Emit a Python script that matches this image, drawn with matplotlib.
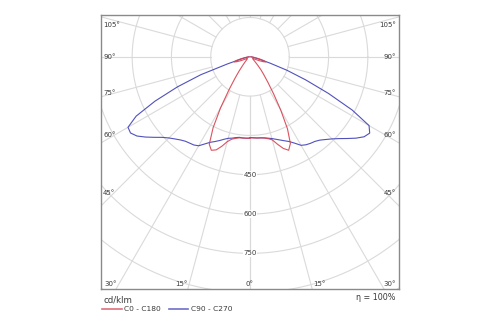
import matplotlib
matplotlib.use('Agg')
import matplotlib.pyplot as plt
from matplotlib.lines import Line2D
import numpy as np

# ─── Data: luminous intensity (cd/klm) vs. gamma angle from nadir ─────
gamma = np.arange(0, 92.5, 2.5)

# C0 (right) / C180 (left) plane
c0 = [309, 310, 311, 312, 315, 320, 328, 350, 372, 386,
      365, 310, 235, 168, 120, 88, 66, 44, 30, 22,
      17, 14, 12, 12, 13, 16, 25, 40, 56, 64,
      52, 36, 24, 15, 9, 5, 3]
c180 = [311, 311, 311, 312, 316, 322, 335, 358, 378, 386,
        368, 305, 225, 150, 100, 68, 45, 32, 24, 18,
        15, 13, 12, 12, 13, 16, 25, 40, 56, 64,
        52, 36, 24, 15, 9, 5, 3]

# C90 (right) / C270 (left) plane
c90 = [308, 309, 311, 312, 314, 318, 323, 330, 338, 347,
       357, 372, 390, 398, 403, 407, 415, 428, 443, 462,
       485, 510, 532, 542, 525, 440, 330, 230, 150, 80,
       40, 22, 14, 9, 6, 4, 3]
c270 = [310, 311, 311, 310, 313, 318, 322, 330, 340, 350,
        360, 375, 392, 399, 402, 406, 414, 425, 438, 455,
        478, 503, 527, 541, 538, 490, 400, 300, 200, 90,
        42, 24, 14, 9, 6, 4, 3]

rings = [150, 300, 450, 600, 750, 900, 1050]
ring_labels = [450, 600, 750]
side_angles = [45, 60, 75, 90, 105]
bottom_angles = [0, 15, 30]
efficiency = 100

RED = '#d6404e'
BLUE = '#3e3eb6'
GRID = '#dadada'
TXT = '#3a3a3a'

W, H = 500, 325
fig = plt.figure(figsize=(W / 100, H / 100), dpi=100)
ax = fig.add_axes([101 / W, 1 - 289 / H, 298 / W, 274 / H])
XL, YB, YT = 569, -886, 159.5
ax.set_xlim(-XL, XL)
ax.set_ylim(YB, YT)
px = (2 * XL) / 298.0   # cd/klm per pixel

# polar grid
t = np.linspace(0, 2 * np.pi, 400)
for r in rings:
    ax.plot(r * np.cos(t), r * np.sin(t), color=GRID, lw=0.8, zorder=1)
for a in range(0, 181, 15):
    g = np.radians(a)
    for sgn in (-1, 1):
        ax.plot([sgn * 150 * np.sin(g), sgn * 1300 * np.sin(g)],
                [-150 * np.cos(g), -1300 * np.cos(g)],
                color=GRID, lw=0.8, zorder=1)

for r in ring_labels:
    ax.text(0, -r, str(r), ha='center', va='center', fontsize=5, color=TXT,
            bbox=dict(boxstyle='square,pad=0.1', fc='white', ec='none'), zorder=2)


def curve(left, right):
    g = np.radians(gamma)
    xl, yl = -np.array(left) * np.sin(g), -np.array(left) * np.cos(g)
    xr, yr = np.array(right) * np.sin(g), -np.array(right) * np.cos(g)
    return np.r_[xl[::-1], xr], np.r_[yl[::-1], yr]


x, y = curve(c270, c90)
ax.plot(x, y, color=BLUE, lw=0.8, zorder=3, alpha=0.9)
x, y = curve(c180, c0)
ax.plot(x, y, color=RED, lw=0.8, zorder=4, alpha=0.9)

# angle labels along the frame
x_in = XL - 7 * px
for a in side_angles:
    yi = -x_in / np.tan(np.radians(a)) + (90 - a) * 0.13 * px
    yi = min(yi, YT - 10 * px)
    ax.text(-XL + 2 * px, yi, f'{a}°', ha='left', va='center', fontsize=5, color=TXT)
    ax.text(XL - 3 * px, yi, f'{a}°', ha='right', va='center', fontsize=5, color=TXT)
y_in = YB + 5 * px
for a in bottom_angles:
    xi = -y_in * np.tan(np.radians(a))
    if a == 0:
        ax.text(0, y_in, '0°', ha='center', va='center', fontsize=5, color=TXT)
        continue
    ax.text(-xi - 2 * px, y_in, f'{a}°', ha='right', va='center', fontsize=5, color=TXT)
    ax.text(xi + 2 * px, y_in, f'{a}°', ha='left', va='center', fontsize=5, color=TXT)

ax.set_xticks([])
ax.set_yticks([])
for s in ax.spines.values():
    s.set_color('#8a8a8a')
    s.set_linewidth(1.0)

fig.text(104 / W, 1 - 300 / H, 'cd/klm', ha='left', va='center', fontsize=6.2, color=TXT)
fig.text(395 / W, 1 - 298 / H, f'η = {efficiency}%', ha='right', va='center',
         fontsize=5.8, color=TXT)
handles = [Line2D([], [], color=RED, lw=1.2, alpha=0.75),
           Line2D([], [], color=BLUE, lw=1.2, alpha=0.75)]
fig.legend(handles, ['C0 - C180', 'C90 - C270'], ncol=2, frameon=False,
           loc='center left', bbox_to_anchor=(102 / W, 1 - 309 / H), fontsize=5.4,
           handlelength=2.6, handletextpad=0.4, columnspacing=1.0,
           borderpad=0, borderaxespad=0, labelcolor=TXT)

fig.savefig('out.png', dpi=100, facecolor='white')
